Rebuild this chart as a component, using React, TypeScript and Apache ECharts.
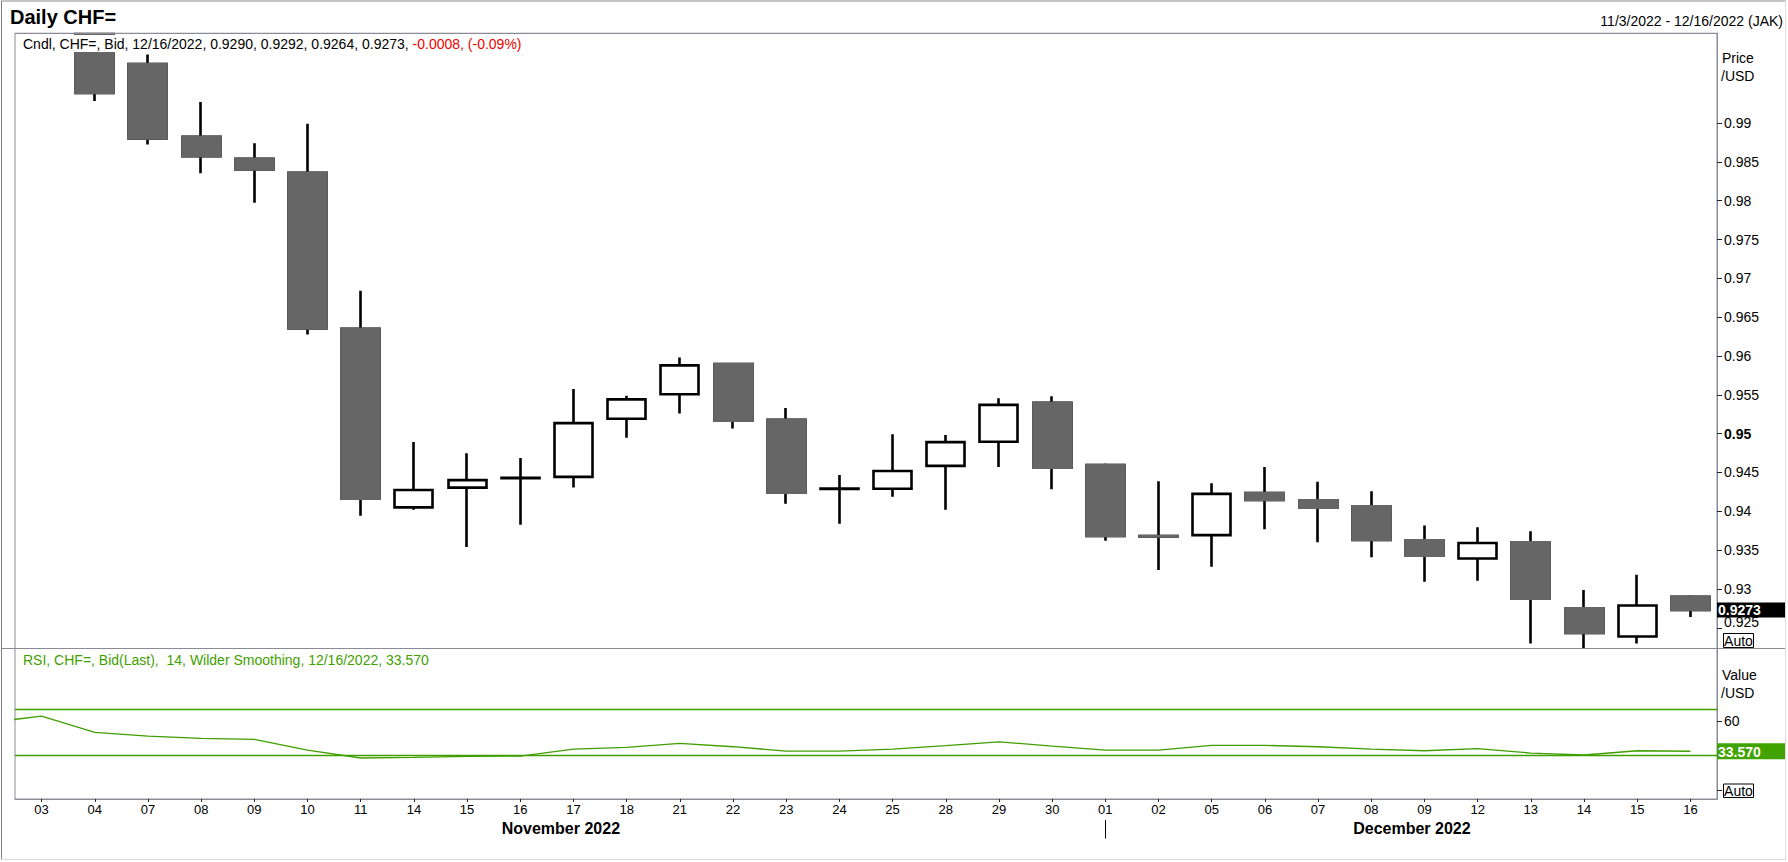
import React, { useEffect, useRef } from 'react';
import * as echarts from 'echarts';

// ---------------- data ----------------
const DATES = ['03', '04', '07', '08', '09', '10', '11', '14', '15', '16', '17', '18', '21', '22', '23', '24', '25', '28', '29', '30',
  '01', '02', '05', '06', '07', '08', '09', '12', '13', '14', '15', '16'];

const OPEN = [1.0030, 1.0062, 0.99760, 0.98822, 0.98541, 0.98358, 0.96349, 0.94050, 0.94305, 0.94425, 0.94443, 0.95192, 0.95508, 0.95896, 0.95177, 0.94288,
  0.94290, 0.94585, 0.94896, 0.95396, 0.94596, 0.93682, 0.93693, 0.94234, 0.94142, 0.94065, 0.93627, 0.93393, 0.93602, 0.92750, 0.92388, 0.9290];
const CLOSE = [1.0065, 0.99387, 0.98801, 0.98572, 0.98404, 0.96354, 0.94162, 0.94274, 0.94402, 0.94430, 0.95136, 0.95442, 0.95880, 0.95167, 0.94239, 0.94292,
  0.94519, 0.94891, 0.95370, 0.94560, 0.93683, 0.93675, 0.94224, 0.94147, 0.94045, 0.93632, 0.93428, 0.93591, 0.92873, 0.92434, 0.92786, 0.9273];
const HIGH = [1.0080, 1.0070, 0.99882, 0.99270, 0.98740, 0.98990, 0.96839, 0.94891, 0.94749, 0.94687, 0.95574, 0.95488, 0.95982, 0.95906, 0.95330, 0.94468,
  0.94993, 0.94983, 0.95457, 0.95483, 0.94616, 0.94387, 0.94361, 0.94570, 0.94382, 0.94259, 0.93816, 0.93795, 0.93744, 0.92985, 0.93184, 0.9292];
const LOW = [1.0020, 0.99285, 0.98725, 0.98353, 0.97975, 0.96278, 0.93943, 0.94020, 0.93541, 0.93826, 0.94305, 0.94947, 0.95258, 0.95065, 0.94096, 0.93841,
  0.94188, 0.94020, 0.94570, 0.94285, 0.93622, 0.93245, 0.93286, 0.93770, 0.93602, 0.93408, 0.93092, 0.93107, 0.92297, 0.92240, 0.92297, 0.9264];

const RSI = [64.2, 50.0, 46.8, 44.8, 43.9, 34.6, 27.7, 28.2, 29.1, 29.4, 35.5, 36.9, 40.4, 37.5, 33.7, 33.7,
  35.5, 38.4, 41.8, 38.1, 34.6, 34.6, 38.7, 38.7, 37.5, 35.5, 34.0, 35.8, 32.0, 30.3, 34.0, 33.57];
const RSI_PREV = 58.4; // previous session (off the left edge)
const RSI_LEVELS = [70, 30];

const PRICE_TICKS = [0.925, 0.93, 0.935, 0.94, 0.945, 0.95, 0.955, 0.96, 0.965, 0.97, 0.975, 0.98, 0.985, 0.99];
const RSI_TICKS = [0, 30, 60];
const RSI_TICK_LABELS = [60];

const MONTHS = [
  { label: 'November 2022', start: 0, end: 19 },
  { label: 'December 2022', start: 20, end: 31 },
];

const TITLE = 'Daily CHF=';
const RANGE_TEXT = '11/3/2022 - 12/16/2022 (JAK)';
const CNDL_TEXT = 'Cndl, CHF=, Bid, 12/16/2022, 0.9290, 0.9292, 0.9264, 0.9273, ';
const CHANGE_TEXT = '-0.0008, (-0.09%)';
const RSI_TEXT = 'RSI, CHF=, Bid(Last),  14, Wilder Smoothing, 12/16/2022, 33.570';
const LAST_PRICE_LABEL = '0.9273';
const LAST_RSI_LABEL = '33.570';

// ---------------- style ----------------
const FONT = "'Liberation Sans', Arial, Helvetica, sans-serif";
const FRAME = '#8b8b97';
const GREEN = '#3f9f00';
const GRID_L = 15;
const GRID_W = 1702;
const P_TOP = 33;
const P_H = 615.5;
const R_TOP = 648.5;
const R_H = 150.5;
const AXIS_X = GRID_L + GRID_W;

function buildOption(): any {
  const candles = DATES.map((_, i) => [OPEN[i], CLOSE[i], LOW[i], HIGH[i]]);
  const bearBodies = DATES.map((_, i) =>
    CLOSE[i] < OPEN[i] ? [OPEN[i], CLOSE[i], CLOSE[i], OPEN[i]] : ['-', '-', '-', '-']);
  const rsiData = [[-1, RSI_PREV], ...RSI.map((v, i) => [i, v])];

  return {
    animation: false,
    backgroundColor: '#fff',
    grid: [
      { left: GRID_L, top: P_TOP, width: GRID_W, height: P_H, show: true, borderColor: FRAME, borderWidth: 1, backgroundColor: '#fff' },
      { left: GRID_L, top: R_TOP, width: GRID_W, height: R_H, show: true, borderColor: FRAME, borderWidth: 1, backgroundColor: '#fff' },
    ],
    xAxis: [
      { type: 'category', gridIndex: 0, data: DATES, boundaryGap: true, show: false },
      {
        type: 'category', gridIndex: 1, data: DATES, boundaryGap: true, position: 'bottom',
        axisLine: { show: true, onZero: false, lineStyle: { color: FRAME, width: 1 } },
        axisTick: { show: true, alignWithLabel: true, interval: 0, length: 3, lineStyle: { color: '#222' } },
        axisLabel: { show: true, interval: 0, margin: 4, color: '#000', fontSize: 13, fontFamily: FONT },
        splitLine: { show: false },
      },
      { type: 'value', gridIndex: 1, min: -0.5, max: DATES.length - 0.5, show: false },
    ],
    yAxis: [
      {
        type: 'value', gridIndex: 0, position: 'right', min: 0.92233, max: 1.0016,
        axisLine: { show: true, onZero: false, lineStyle: { color: FRAME, width: 1 } },
        axisTick: { show: true, customValues: PRICE_TICKS, length: 5, lineStyle: { color: '#222' } },
        axisLabel: {
          show: true, customValues: PRICE_TICKS, margin: 7, color: '#000', fontSize: 14, fontFamily: FONT,
          formatter: (v: number) => {
            if (Math.abs(v - 0.95) < 1e-9) return '{b|0.95}';
            if (Math.abs(v - 0.925) < 1e-9) return '{s|0.925}';
            return String(v);
          },
          rich: {
            b: { fontWeight: 'bold', fontSize: 14, fontFamily: FONT, color: '#000' },
            s: { fontSize: 14, fontFamily: FONT, color: '#000', padding: [0, 0, 12, 0] },
          },
        },
        splitLine: { show: false },
      },
      {
        type: 'value', gridIndex: 1, position: 'right', min: -8, max: 123,
        axisLine: { show: true, onZero: false, lineStyle: { color: FRAME, width: 1 } },
        axisTick: { show: true, customValues: RSI_TICKS, length: 5, lineStyle: { color: '#222' } },
        axisLabel: { show: true, customValues: RSI_TICK_LABELS, margin: 7, color: '#000', fontSize: 14, fontFamily: FONT },
        splitLine: { show: false },
      },
    ],
    series: [
      {
        type: 'candlestick', name: 'CHF=', xAxisIndex: 0, yAxisIndex: 0, data: candles,
        barWidth: 38.5, clip: true, silent: true, emphasis: { disabled: true },
        itemStyle: { color: '#fff', color0: '#666666', borderColor: '#000', borderColor0: '#000', borderWidth: 2.6 },
      },
      {
        type: 'candlestick', name: 'bear bodies', xAxisIndex: 0, yAxisIndex: 0, data: bearBodies,
        barWidth: 38.5, clip: true, silent: true, emphasis: { disabled: true },
        itemStyle: { color: '#666666', color0: '#666666', borderColor: '#666666', borderColor0: '#666666', borderWidth: 2.6 },
      },
      {
        type: 'line', name: 'RSI', xAxisIndex: 2, yAxisIndex: 1, data: rsiData,
        symbol: 'none', clip: true, silent: true,
        lineStyle: { color: GREEN, width: 1.3 },
        markLine: {
          silent: true, symbol: ['none', 'none'], label: { show: false },
          lineStyle: { color: GREEN, width: 1.3, type: 'solid' },
          emphasis: { disabled: true },
          data: RSI_LEVELS.map((v) => ({ yAxis: v })),
        },
      },
    ],
  };
}

function txt(x: number, y: number, text: string, font: string, fill: string, align = 'left', extra: any = {}) {
  return {
    type: 'text', x, y, z: 50, silent: true,
    style: { text, font, fill, align, textAlign: align, verticalAlign: 'middle', textVerticalAlign: 'middle', ...extra },
  };
}

function line(x1: number, y1: number, x2: number, y2: number, stroke: string, lineWidth = 1) {
  return { type: 'line', z: 50, silent: true, shape: { x1, y1, x2, y2 }, style: { stroke, lineWidth } };
}

function buildGraphics(yPrice: number, yRsi: number, xs: number[]) {
  const f14 = `14px ${FONT}`;
  const g: any[] = [];
  // white mask above the price panel (candles running past the top are cut there)
  g.push({ type: 'rect', z: 40, silent: true, shape: { x: 0, y: 0, width: 1788, height: P_TOP - 0.5 }, style: { fill: '#fff' } });
  g.push(line(GRID_L, P_TOP + 0.5, AXIS_X, P_TOP + 0.5, FRAME));
  // outer frame
  g.push(line(1, 1, 1786, 1, '#8a8a8a'));
  g.push(line(1.5, 1, 1.5, 860, '#808080'));
  g.push(line(1785.5, 1, 1785.5, 860, '#dcdcdc'));
  g.push(line(1, 859.5, 1786, 859.5, '#dcdcdc'));
  // panel separator across full width
  g.push(line(2, R_TOP, 1785, R_TOP, FRAME));
  // headers
  g.push(txt(10, 16.5, TITLE, `bold 20px ${FONT}`, '#000'));
  g.push(txt(1783, 21, RANGE_TEXT, f14, '#000', 'right'));
  g.push({
    type: 'text', x: 18, y: 43.5, z: 60, silent: true,
    style: {
      text: `{k|${CNDL_TEXT}}{r|${CHANGE_TEXT}}`,
      rich: { k: { fill: '#000', font: f14 }, r: { fill: '#f00000', font: f14 } },
      font: f14, verticalAlign: 'middle', textVerticalAlign: 'middle',
      backgroundColor: '#fff', padding: [2, 3, 1, 5],
    },
  });
  g.push(txt(23, 659.5, RSI_TEXT, f14, GREEN));
  // axis titles
  g.push(txt(1722, 58, 'Price', f14, '#000'));
  g.push(txt(1721, 76, '/USD', f14, '#000'));
  g.push(txt(1722, 674.5, 'Value', f14, '#000'));
  g.push(txt(1721, 692.5, '/USD', f14, '#000'));
  // last value boxes
  g.push({ type: 'rect', z: 55, silent: true, shape: { x: AXIS_X, y: yPrice - 7.5, width: 68, height: 15 }, style: { fill: '#000' } });
  g.push({ ...txt(AXIS_X + 1, yPrice + 0.5, LAST_PRICE_LABEL, `bold 14px ${FONT}`, '#fff'), z: 56 });
  g.push({ type: 'rect', z: 55, silent: true, shape: { x: AXIS_X, y: yRsi - 8, width: 68, height: 16 }, style: { fill: '#41a300' } });
  g.push({ ...txt(AXIS_X + 1, yRsi + 0.5, LAST_RSI_LABEL, `bold 14px ${FONT}`, '#fff'), z: 56 });
  // Auto boxes
  [[633.5, 14], [784, 13.5]].forEach(([y, h]) => {
    g.push({ type: 'rect', z: 55, silent: true, shape: { x: 1723.5, y, width: 30, height: h }, style: { fill: '#fff', stroke: '#000', lineWidth: 1 } });
    g.push({ ...txt(1738.5, y + h / 2 + 0.5, 'Auto', f14, '#000', 'center'), z: 56 });
  });
  // month labels and separator tick
  MONTHS.forEach((m) => {
    const cx = (xs[m.start] + xs[m.end]) / 2 + 14;
    g.push(txt(cx, 828.5, m.label, `bold 16px ${FONT}`, '#000', 'center'));
  });
  for (let k = 1; k < MONTHS.length; k++) {
    const x = Math.round(xs[MONTHS[k].start]) + 0.5;
    g.push(line(x, 820, x, 838.5, '#000'));
  }
  return g;
}

export default function App() {
  const ref = useRef<HTMLDivElement>(null);
  useEffect(() => {
    const el = ref.current;
    if (!el) return;
    const chart = echarts.init(el, null, { renderer: 'svg' });
    chart.setOption(buildOption());
    const last = DATES.length - 1;
    const yPrice = chart.convertToPixel({ yAxisIndex: 0 } as any, CLOSE[last]) as unknown as number;
    const yRsi = chart.convertToPixel({ yAxisIndex: 1 } as any, RSI[last]) as unknown as number;
    const xs = DATES.map((_, i) => chart.convertToPixel({ xAxisIndex: 1 } as any, i) as unknown as number);
    chart.setOption({ graphic: buildGraphics(yPrice, yRsi, xs) });
    return () => chart.dispose();
  }, []);
  return (
    <div
      ref={ref}
      style={{ position: 'fixed', left: 0, top: 0, width: 1788, height: 862, background: '#fff' }}
    />
  );
}
